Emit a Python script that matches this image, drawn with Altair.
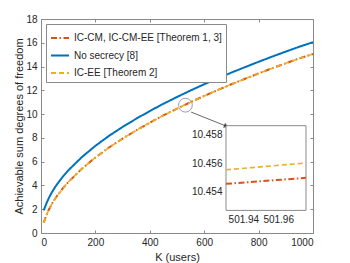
import altair as alt
import pandas as pd

# ---- data ----
K = [10, 20, 30, 40, 50, 60, 80, 100, 150, 200, 250, 300, 350, 400, 450, 500,
     550, 600, 650, 700, 750, 800, 850, 900, 950, 1000]
ic_cm = [0.86, 1.52, 2.02, 2.44, 2.82, 3.15, 3.75, 4.28, 5.40, 6.35, 7.19, 7.94,
         8.63, 9.28, 9.89, 10.46, 11.01, 11.53, 12.03, 12.51, 12.97, 13.42,
         13.86, 14.28, 14.69, 15.06]
no_secrecy = [1.90, 2.50, 3.00, 3.42, 3.80, 4.13, 4.73, 5.26, 6.38, 7.33, 8.17,
              8.92, 9.61, 10.26, 10.87, 11.44, 11.99, 12.51, 13.01, 13.49, 13.95,
              14.40, 14.84, 15.26, 15.67, 16.05]
ic_ee = [0.86, 1.52, 2.02, 2.44, 2.82, 3.15, 3.75, 4.28, 5.40, 6.35, 7.19, 7.94,
         8.63, 9.28, 9.89, 10.46, 11.01, 11.53, 12.03, 12.51, 12.97, 13.42,
         13.86, 14.28, 14.69, 15.06]

series_names = ["IC-CM, IC-CM-EE [Theorem 1, 3]", "No secrecy [8]", "IC-EE [Theorem 2]"]
series_colors = ["#D95319", "#0072BD", "#EDB120"]
series_dash = [[6, 2.5, 1.5, 2.5], [1, 0], [5, 3]]

x_ticks = [0, 200, 400, 600, 800, 1000]
y_ticks = [0, 2, 4, 6, 8, 10, 12, 14, 16, 18]

# inset (zoom) data
inset_k = [501.93, 501.976]
inset_ic_cm = [10.45455, 10.45497]
inset_ic_ee = [10.45553, 10.45600]
inset_x_domain = [501.93, 501.976]
inset_y_domain = [10.4527, 10.4586]
inset_x_ticks = [501.94, 501.96]
inset_y_ticks = [10.454, 10.456, 10.458]

# annotation: zoom circle and arrow
circle_k = [531]
circle_v = [10.75]
arrow_k = [552, 681]
arrow_v = [10.17, 8.99]

W, H = 272, 214
INSET_XR = [185, 265]
INSET_YR = [191.4, 106.7]
GRAY = "#8a8a8a"
TXT = "#262626"
FONT = "Liberation Sans"

def df_series(i, vals):
    return pd.DataFrame({"K": K, "v": vals, "series": series_names[i]})

def mx(axis):
    return alt.X("K:Q", scale=alt.Scale(domain=[0, 1000], nice=False, zero=False), axis=axis)

def my(axis):
    return alt.Y("v:Q", scale=alt.Scale(domain=[0, 18], nice=False, zero=False), axis=axis)

def ix(field, axis):
    return alt.X(field, type="quantitative",
                 scale=alt.Scale(domain=inset_x_domain, range=INSET_XR, nice=False, zero=False),
                 axis=axis)

def iy(field, axis):
    return alt.Y(field, type="quantitative",
                 scale=alt.Scale(domain=inset_y_domain, range=INSET_YR, nice=False, zero=False),
                 axis=axis)

def tick_axis(orient, offset, values, size=3):
    return alt.Axis(orient=orient, offset=offset, values=values, labels=False,
                    domain=False, grid=False, tickSize=size, tickColor=GRAY,
                    tickWidth=1, title="")

color = alt.Color("series:N", scale=alt.Scale(domain=series_names, range=series_colors),
                  legend=alt.Legend(title=None, orient="top-left", offset=5))
dash = alt.StrokeDash("series:N", scale=alt.Scale(domain=series_names, range=series_dash),
                      legend=alt.Legend(title=None, orient="top-left", offset=5))

x_main_axis = alt.Axis(values=x_ticks, format="d", tickSize=0, labelPadding=4, domain=False,
                       grid=False, title="K (users)", titlePadding=4)
y_main_axis = alt.Axis(values=y_ticks, format="d", tickSize=0, labelPadding=4, domain=False,
                       grid=False, title="Achievable sum degrees of freedom", titlePadding=1)

red = alt.Chart(df_series(0, ic_cm)).mark_line(strokeWidth=2).encode(
    x=mx(x_main_axis), y=my(y_main_axis), color=color, strokeDash=dash)
blue = alt.Chart(df_series(1, no_secrecy)).mark_line(strokeWidth=2).encode(
    x=mx(tick_axis("top", -H, x_ticks)), y=my(tick_axis("right", -W, y_ticks)),
    color=color, strokeDash=dash)
yellow = alt.Chart(df_series(2, ic_ee)).mark_line(strokeWidth=1.6).encode(
    x=mx(tick_axis("bottom", -H, x_ticks)), y=my(tick_axis("left", -W, y_ticks)),
    color=color, strokeDash=dash)

circle = alt.Chart(pd.DataFrame({"K": circle_k, "v": circle_v})).mark_point(
    shape="circle", size=190, filled=False, stroke="#666666", strokeWidth=0.9).encode(
    x=mx(None), y=my(None))
arrow_df = pd.DataFrame({"K": arrow_k, "v": arrow_v, "o": [0, 1]})
arrow = alt.Chart(arrow_df).mark_line(color="#555555", strokeWidth=0.9).encode(
    x=mx(None), y=my(None), order="o:O")
head = alt.Chart(arrow_df.iloc[[1]]).mark_point(
    shape="triangle-right", size=28, filled=True, color="#111111", angle=22).encode(
    x=mx(None), y=my(None))

box_df = pd.DataFrame({"x": [inset_x_domain[0]], "x2": [inset_x_domain[1]],
                       "y": [inset_y_domain[0]], "y2": [inset_y_domain[1]]})
box = alt.Chart(box_df).mark_rect(fill="white", stroke=GRAY, strokeWidth=1).encode(
    x=ix("x", None), x2="x2", y=iy("y", None), y2="y2")

ins_x_axis = alt.Axis(orient="bottom", offset=-(H - INSET_YR[0]), values=inset_x_ticks,
                      format=".2f", tickSize=0, labelPadding=4, domain=False, grid=False, title="")
ins_y_axis = alt.Axis(orient="left", offset=-INSET_XR[0], values=inset_y_ticks,
                      format=".3f", tickSize=0, labelPadding=4, domain=False, grid=False, title="")

inset_df_ee = pd.DataFrame({"K": inset_k, "v": inset_ic_ee})
inset_df_cm = pd.DataFrame({"K": inset_k, "v": inset_ic_cm})
ins_red = alt.Chart(inset_df_cm).mark_line(
    color=series_colors[0], strokeWidth=2, strokeDash=series_dash[0]).encode(
    x=ix("K", ins_x_axis), y=iy("v", ins_y_axis))
ins_yellow = alt.Chart(inset_df_ee).mark_line(
    color=series_colors[2], strokeWidth=1.6, strokeDash=series_dash[2]).encode(
    x=ix("K", tick_axis("top", -INSET_YR[0], inset_x_ticks, 2)),
    y=iy("v", tick_axis("right", -(W - INSET_XR[0]), inset_y_ticks, 2)))

chart = alt.layer(red, blue, yellow, circle, arrow, head, box, ins_red, ins_yellow).resolve_scale(
    x="independent", y="independent"
).properties(
    width=W, height=H, padding={"left": 5, "top": 6, "right": 5, "bottom": 5}
).configure_view(
    stroke=GRAY, strokeWidth=1
).configure_axis(
    labelFont=FONT, titleFont=FONT, labelFontSize=10, titleFontSize=11,
    labelColor=TXT, titleColor=TXT, titleFontWeight="normal"
).configure_legend(
    labelFont=FONT, labelFontSize=10, labelColor=TXT, symbolType="stroke",
    symbolSize=324, symbolStrokeWidth=2, strokeColor=GRAY, fillColor="white",
    padding=4, rowPadding=2.5, labelOffset=4, cornerRadius=0
)

chart.save("out.html", embed_options={"renderer": "svg", "actions": False})
